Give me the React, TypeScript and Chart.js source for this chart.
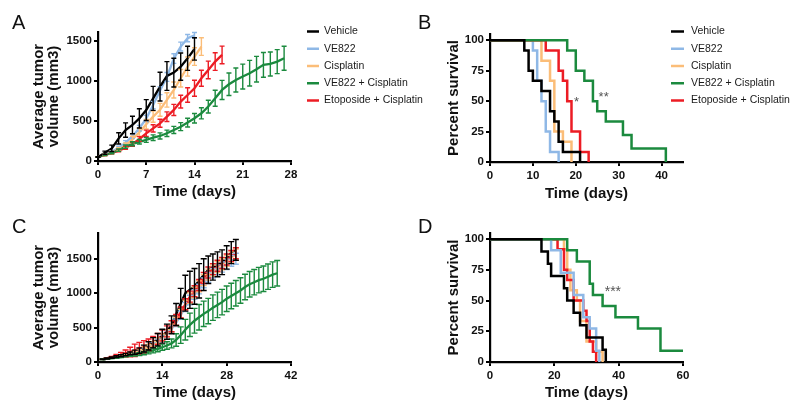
import React, { useEffect, useRef } from 'react';
import { Chart, registerables } from 'chart.js';

Chart.register(...registerables);

const FONT = "'Liberation Sans', Arial, Helvetica, sans-serif";

// ---- Series (shared) ----
const seriesNames = ['Vehicle', 'VE822', 'Cisplatin', 'VE822 + Cisplatin', 'Etoposide + Cisplatin'];
const seriesColors = ['#000000', '#8fb8e6', '#fbbd78', '#1b8a3e', '#ec1c24'];

// ---- Panel A: tumor volume (mm3), days starting at 0 ----
const aVehicle = [50, 104, 158, 283, 387, 450, 533, 637, 783, 929, 1062, 1104, 1179, 1283, 1400];
const aVehicleErr = [5, 20, 40, 70, 90, 110, 120, 130, 150, 180, 180, 180, 170, 150, 140];
const aVE822 = [50, 80, 115, 165, 230, 310, 410, 530, 700, 880, 1050, 1280, 1430, 1535, 1570];
const aVE822Err = [5, 10, 15, 20, 25, 30, 35, 40, 45, 50, 55, 60, 55, 45, 35];
const aCis = [50, 75, 105, 145, 195, 270, 360, 460, 554, 640, 763, 888, 1034, 1180, 1305, 1430];
const aCisErr = [5, 10, 15, 20, 30, 40, 50, 60, 70, 80, 90, 100, 110, 120, 110, 110];
const aCombo = [50, 75, 100, 135, 180, 215, 240, 263, 292, 313, 346, 388, 429, 480, 534, 596, 680, 784, 888, 959, 1013, 1055, 1097, 1147, 1201, 1213, 1242, 1284];
const aComboErr = [5, 8, 10, 15, 20, 25, 28, 30, 35, 38, 40, 45, 50, 55, 60, 70, 80, 100, 120, 140, 150, 155, 160, 160, 155, 150, 150, 150];
const aEto = [50, 75, 100, 130, 165, 210, 275, 346, 408, 471, 554, 638, 742, 825, 909, 1034, 1138, 1242, 1326];
const aEtoErr = [5, 8, 10, 15, 20, 25, 30, 40, 45, 50, 60, 70, 80, 90, 100, 100, 110, 110, 110];
const aStartDay = 0;
const aXTicks = [0, 7, 14, 21, 28];
const aYTicks = [0, 500, 1000, 1500];

// ---- Panel C: tumor volume (mm3), days starting at 1 ----
const cVehicle = [40, 52, 64, 78, 92, 108, 125, 142, 165, 195, 235, 280, 325, 375, 440, 540, 690, 850, 1000, 1050, 1100, 1180, 1270, 1340, 1380, 1420, 1450, 1520, 1590, 1630];
const cVehicleErr = [5, 8, 10, 12, 15, 18, 20, 30, 40, 50, 60, 75, 90, 100, 110, 130, 160, 220, 260, 270, 260, 250, 230, 200, 190, 180, 180, 170, 160, 150];
const cVE822 = [40, 50, 62, 75, 88, 102, 118, 135, 155, 180, 215, 255, 300, 350, 410, 480, 570, 680, 800, 900, 980, 1060, 1150, 1230, 1290, 1340, 1380, 1420, 1470, 1500];
const cVE822Err = [3, 4, 5, 6, 8, 10, 12, 15, 18, 22, 26, 30, 35, 40, 45, 50, 55, 60, 65, 70, 70, 70, 70, 70, 70, 72, 74, 76, 78, 80];
const cCis = [40, 50, 62, 75, 90, 105, 120, 140, 160, 190, 225, 265, 310, 360, 420, 495, 590, 700, 830, 930, 1010, 1100, 1190, 1270, 1330, 1380, 1420, 1470, 1520, 1560];
const cCisErr = [3, 4, 5, 7, 9, 11, 13, 16, 20, 25, 30, 35, 40, 45, 50, 55, 60, 65, 70, 75, 80, 80, 80, 80, 80, 80, 80, 80, 80, 80];
const cCombo = [40, 48, 56, 64, 72, 82, 92, 102, 115, 130, 148, 168, 190, 215, 240, 270, 320, 390, 470, 540, 600, 650, 700, 740, 790, 830, 870, 920, 960, 1000, 1040, 1090, 1130, 1160, 1190, 1210, 1240, 1270, 1290];
const cComboErr = [3, 4, 5, 6, 7, 8, 10, 15, 20, 25, 30, 35, 40, 45, 55, 65, 90, 120, 150, 170, 180, 185, 185, 185, 185, 185, 185, 185, 185, 185, 185, 185, 185, 185, 185, 185, 185, 185, 185];
const cEto = [42, 55, 70, 88, 105, 125, 145, 170, 195, 220, 250, 290, 335, 385, 445, 520, 610, 720, 840, 950, 1030, 1120, 1220, 1300, 1350, 1400, 1440, 1490, 1540, 1580];
const cEtoErr = [4, 6, 10, 20, 35, 50, 70, 90, 90, 90, 85, 80, 80, 80, 80, 80, 80, 80, 80, 80, 80, 80, 80, 80, 80, 80, 80, 80, 80, 80];
const cStartDay = 1;
const cXTicks = [0, 14, 28, 42];
const cYTicks = [0, 500, 1000, 1500];

// ---- Panel B: survival (%) ----
const bVehicleT = [0, 8, 9, 10, 12, 14, 15, 16, 17, 21];
const bVehicleS = [100, 91.7, 75, 66.7, 58.3, 41.7, 33.3, 16.7, 8.3, 0];
const bVE822T = [0, 10, 11, 12, 13, 14, 16];
const bVE822S = [100, 91.7, 66.7, 50, 25, 8.3, 0];
const bCisT = [0, 12, 14, 15, 17, 19];
const bCisS = [100, 83.3, 66.7, 25, 16.7, 0];
const bComboT = [0, 18, 20, 22, 24, 25, 27, 31, 33, 41];
const bComboS = [100, 91.7, 75, 66.7, 50, 41.7, 33.3, 22.2, 11.1, 0];
const bEtoT = [0, 13, 16, 17, 18, 19, 21, 23];
const bEtoS = [100, 91.7, 75, 66.7, 50, 25, 8.3, 0];
const bXTicks = [0, 10, 20, 30, 40];
const survTicks = [0, 25, 50, 75, 100];

// ---- Panel D: survival (%) ----
const dVehicleT = [0, 16, 18, 19, 23, 24, 26, 28, 30, 35, 36];
const dVehicleS = [100, 90, 80, 70, 60, 50, 40, 30, 20, 10, 0];
const dVE822T = [0, 19, 22, 26, 29, 31, 33, 34];
const dVE822S = [100, 90.9, 72.7, 54.5, 36.4, 27.3, 9.1, 0];
const dCisT = [0, 23, 24, 25, 27, 28, 30, 33, 35];
const dCisS = [100, 91.7, 75, 58.3, 50, 33.3, 16.7, 8.3, 0];
const dComboT = [0, 24, 27, 31, 32, 35, 39, 46, 53, 60];
const dComboS = [100, 90.9, 81.8, 63.6, 54.5, 45.5, 36.4, 27.3, 9.1, 9.1];
const dEtoT = [0, 21, 23, 24, 26, 29, 30, 31, 32, 33];
const dEtoS = [100, 91.7, 75, 66.7, 50, 41.7, 33.3, 16.7, 8.3, 0];
const dXTicks = [0, 20, 40, 60];

// significance marks (data coordinates)
const bNotes = [
  { text: '*', x: 20.2, y: 49, size: 13 },
  { text: '**', x: 26.5, y: 53, size: 13 },
];
const dNotes = [{ text: '***', x: 38.2, y: 57, size: 14 }];

// ---- helpers ----
const growth = (vals: number[], errs: number[], start: number, idx: number) => ({
  label: seriesNames[idx],
  data: vals.map((v, i) => ({ x: start + i, y: v })),
  errors: errs,
  borderColor: seriesColors[idx],
  backgroundColor: seriesColors[idx],
  borderWidth: 2.3,
  pointRadius: 0,
  fill: false,
});

const survival = (t: number[], s: number[], idx: number) => ({
  label: seriesNames[idx],
  data: t.map((x, i) => ({ x, y: s[i] })),
  borderColor: seriesColors[idx],
  backgroundColor: seriesColors[idx],
  borderWidth: 2.5,
  pointRadius: 0,
  stepped: true,
  fill: false,
});

const errorBarPlugin = {
  id: 'errorBars',
  afterDatasetsDraw(chart: any) {
    const ctx = chart.ctx;
    const xs = chart.scales.x;
    const ys = chart.scales.y;
    const dsets = chart.data.datasets;
    for (let i = dsets.length - 1; i >= 0; i--) {
      const ds: any = dsets[i];
      if (!ds.errors) continue;
      const cap = chart.options.errorCap || 2.5;
      ctx.save();
      ctx.strokeStyle = ds.borderColor;
      ctx.lineWidth = 1.4;
      ds.data.forEach((p: any, j: number) => {
        const e = ds.errors[j];
        if (!e) return;
        const px = xs.getPixelForValue(p.x);
        const top = ys.getPixelForValue(p.y + e);
        const bot = ys.getPixelForValue(p.y - e);
        ctx.beginPath();
        ctx.moveTo(px, top);
        ctx.lineTo(px, bot);
        ctx.moveTo(px - cap, top);
        ctx.lineTo(px + cap, top);
        ctx.moveTo(px - cap, bot);
        ctx.lineTo(px + cap, bot);
        ctx.stroke();
      });
      ctx.restore();
    }
  },
};

const overlayPlugin = (spec: any) => ({
  id: 'overlay',
  afterDraw(chart: any) {
    const ctx = chart.ctx;
    ctx.save();
    ctx.fillStyle = '#111';
    ctx.font = `20px ${FONT}`;
    ctx.textAlign = 'left';
    ctx.textBaseline = 'alphabetic';
    ctx.fillText(spec.letter, spec.letterX, spec.letterY);
    if (spec.legend) {
      const lg = spec.legend;
      ctx.font = `10.5px ${FONT}`;
      ctx.textBaseline = 'middle';
      seriesNames.forEach((name, i) => {
        const y = lg.y0 + i * lg.dy;
        ctx.strokeStyle = seriesColors[i];
        ctx.lineWidth = 2.5;
        ctx.beginPath();
        ctx.moveTo(lg.x1, y);
        ctx.lineTo(lg.x2, y);
        ctx.stroke();
        ctx.fillStyle = '#1a1a1a';
        ctx.fillText(name, lg.tx, y);
      });
    }
    (spec.notes || []).forEach((n: any) => {
      const px = chart.scales.x.getPixelForValue(n.x);
      const py = chart.scales.y.getPixelForValue(n.y);
      ctx.font = `${n.size}px ${FONT}`;
      ctx.fillStyle = '#555';
      ctx.textAlign = 'center';
      ctx.textBaseline = 'middle';
      ctx.fillText(n.text, px, py);
    });
    ctx.restore();
  },
});

const axisCommon = (ticks: number[]) => ({
  grid: {
    display: true,
    drawOnChartArea: false,
    drawTicks: true,
    tickLength: 4,
    lineWidth: 2,
    color: '#000',
    tickColor: '#000',
  },
  border: { display: true, width: 2.2, color: '#000' },
  afterBuildTicks: (s: any) => {
    s.ticks = ticks.map((v) => ({ value: v }));
  },
});

function buildConfig(spec: any) {
  return {
    type: 'line',
    data: { datasets: spec.datasets },
    options: {
      responsive: false,
      maintainAspectRatio: false,
      animation: false,
      errorCap: spec.cap,
      layout: { padding: { left: 0, top: spec.padTop, right: spec.padRight, bottom: 0 } },
      plugins: { legend: { display: false }, tooltip: { enabled: false } },
      elements: { point: { radius: 0 }, line: { tension: 0 } },
      scales: {
        x: {
          type: 'linear',
          min: 0,
          max: spec.xMax,
          bounds: 'data',
          ...axisCommon(spec.xTicks),
          afterFit: (s: any) => {
            s.height = spec.xH;
          },
          ticks: {
            font: { family: FONT, size: 11.5, weight: 'bold' },
            color: '#111',
            padding: 3,
            maxRotation: 0,
            autoSkip: false,
            callback: (v: any) => String(v),
          },
          title: {
            display: true,
            text: 'Time (days)',
            color: '#111',
            font: { family: FONT, size: 15, weight: 'bold', lineHeight: 1 },
            padding: { top: 0, bottom: spec.xTitlePad },
          },
        },
        y: {
          type: 'linear',
          min: 0,
          max: spec.yMax,
          bounds: 'data',
          ...axisCommon(spec.yTicks),
          afterFit: (s: any) => {
            s.width = spec.yW;
          },
          ticks: {
            font: { family: FONT, size: 11.5, weight: 'bold' },
            color: '#111',
            padding: 2,
            autoSkip: false,
            callback: (v: any) => String(v),
          },
          title: {
            display: true,
            text: spec.yTitle,
            color: '#111',
            font: { family: FONT, size: 15, weight: 'bold', lineHeight: 1 },
            padding: { top: spec.yTitlePad, bottom: 0 },
          },
        },
      },
    },
    plugins: [errorBarPlugin, overlayPlugin(spec)],
  };
}

const panels = [
  {
    key: 'A', left: 0, top: 0, w: 440, h: 206,
    yW: 98, padTop: 32, padRight: 149, xH: 45, xMax: 28, yMax: 1612,
    xTicks: aXTicks, yTicks: aYTicks, yTitle: ['Average tumor', 'volume (mm3)'],
    yTitlePad: 31.5, xTitlePad: 6.5, cap: 2.5,
    letter: 'A', letterX: 12, letterY: 29,
    legend: { x1: 307, x2: 319, tx: 324, y0: 31.5, dy: 17.25 },
    notes: [],
    datasets: [
      growth(aVehicle, aVehicleErr, aStartDay, 0),
      growth(aCombo, aComboErr, aStartDay, 3),
      growth(aEto, aEtoErr, aStartDay, 4),
      growth(aCis, aCisErr, aStartDay, 2),
      growth(aVE822, aVE822Err, aStartDay, 1),
    ],
  },
  {
    key: 'B', left: 400, top: 0, w: 400, h: 206,
    yW: 90, padTop: 34, padRight: 117, xH: 44, xMax: 45, yMax: 105.2,
    xTicks: bXTicks, yTicks: survTicks, yTitle: 'Percent survival',
    yTitlePad: 46.5, xTitlePad: 4.5, cap: 0,
    letter: 'B', letterX: 18, letterY: 29,
    legend: { x1: 271, x2: 284, tx: 291, y0: 31.5, dy: 17.25 },
    notes: bNotes,
    datasets: [
      survival(bVehicleT, bVehicleS, 0),
      survival(bComboT, bComboS, 3),
      survival(bEtoT, bEtoS, 4),
      survival(bCisT, bCisS, 2),
      survival(bVE822T, bVE822S, 1),
    ],
  },
  {
    key: 'C', left: 0, top: 206, w: 440, h: 206,
    yW: 98, padTop: 27, padRight: 149, xH: 50, xMax: 42, yMax: 1875,
    xTicks: cXTicks, yTicks: cYTicks, yTitle: ['Average tumor', 'volume (mm3)'],
    yTitlePad: 31.5, xTitlePad: 11.2, cap: 3,
    letter: 'C', letterX: 12, letterY: 27,
    legend: null,
    notes: [],
    datasets: [
      growth(cVehicle, cVehicleErr, cStartDay, 0),
      growth(cCombo, cComboErr, cStartDay, 3),
      growth(cEto, cEtoErr, cStartDay, 4),
      growth(cCis, cCisErr, cStartDay, 2),
      growth(cVE822, cVE822Err, cStartDay, 1),
    ],
  },
  {
    key: 'D', left: 400, top: 206, w: 400, h: 206,
    yW: 90, padTop: 27, padRight: 117, xH: 50, xMax: 60, yMax: 105,
    xTicks: dXTicks, yTicks: survTicks, yTitle: 'Percent survival',
    yTitlePad: 46.5, xTitlePad: 11.2, cap: 0,
    letter: 'D', letterX: 18, letterY: 27,
    legend: null,
    notes: dNotes,
    datasets: [
      survival(dVehicleT, dVehicleS, 0),
      survival(dComboT, dComboS, 3),
      survival(dVE822T, dVE822S, 1),
      survival(dEtoT, dEtoS, 4),
      survival(dCisT, dCisS, 2),
    ],
  },
];

function Panel({ spec }: { spec: any }) {
  const ref = useRef<HTMLCanvasElement | null>(null);
  useEffect(() => {
    if (!ref.current) return;
    const chart = new Chart(ref.current, buildConfig(spec) as any);
    return () => chart.destroy();
  }, [spec]);
  return (
    <canvas
      ref={ref}
      width={spec.w}
      height={spec.h}
      style={{ position: 'absolute', left: spec.left, top: spec.top, width: spec.w, height: spec.h }}
    />
  );
}

export default function App() {
  return (
    <div style={{ position: 'absolute', left: 0, top: 0, width: 800, height: 412, background: '#fff', overflow: 'hidden' }}>
      {panels.map((p) => (
        <Panel key={p.key} spec={p} />
      ))}
    </div>
  );
}
